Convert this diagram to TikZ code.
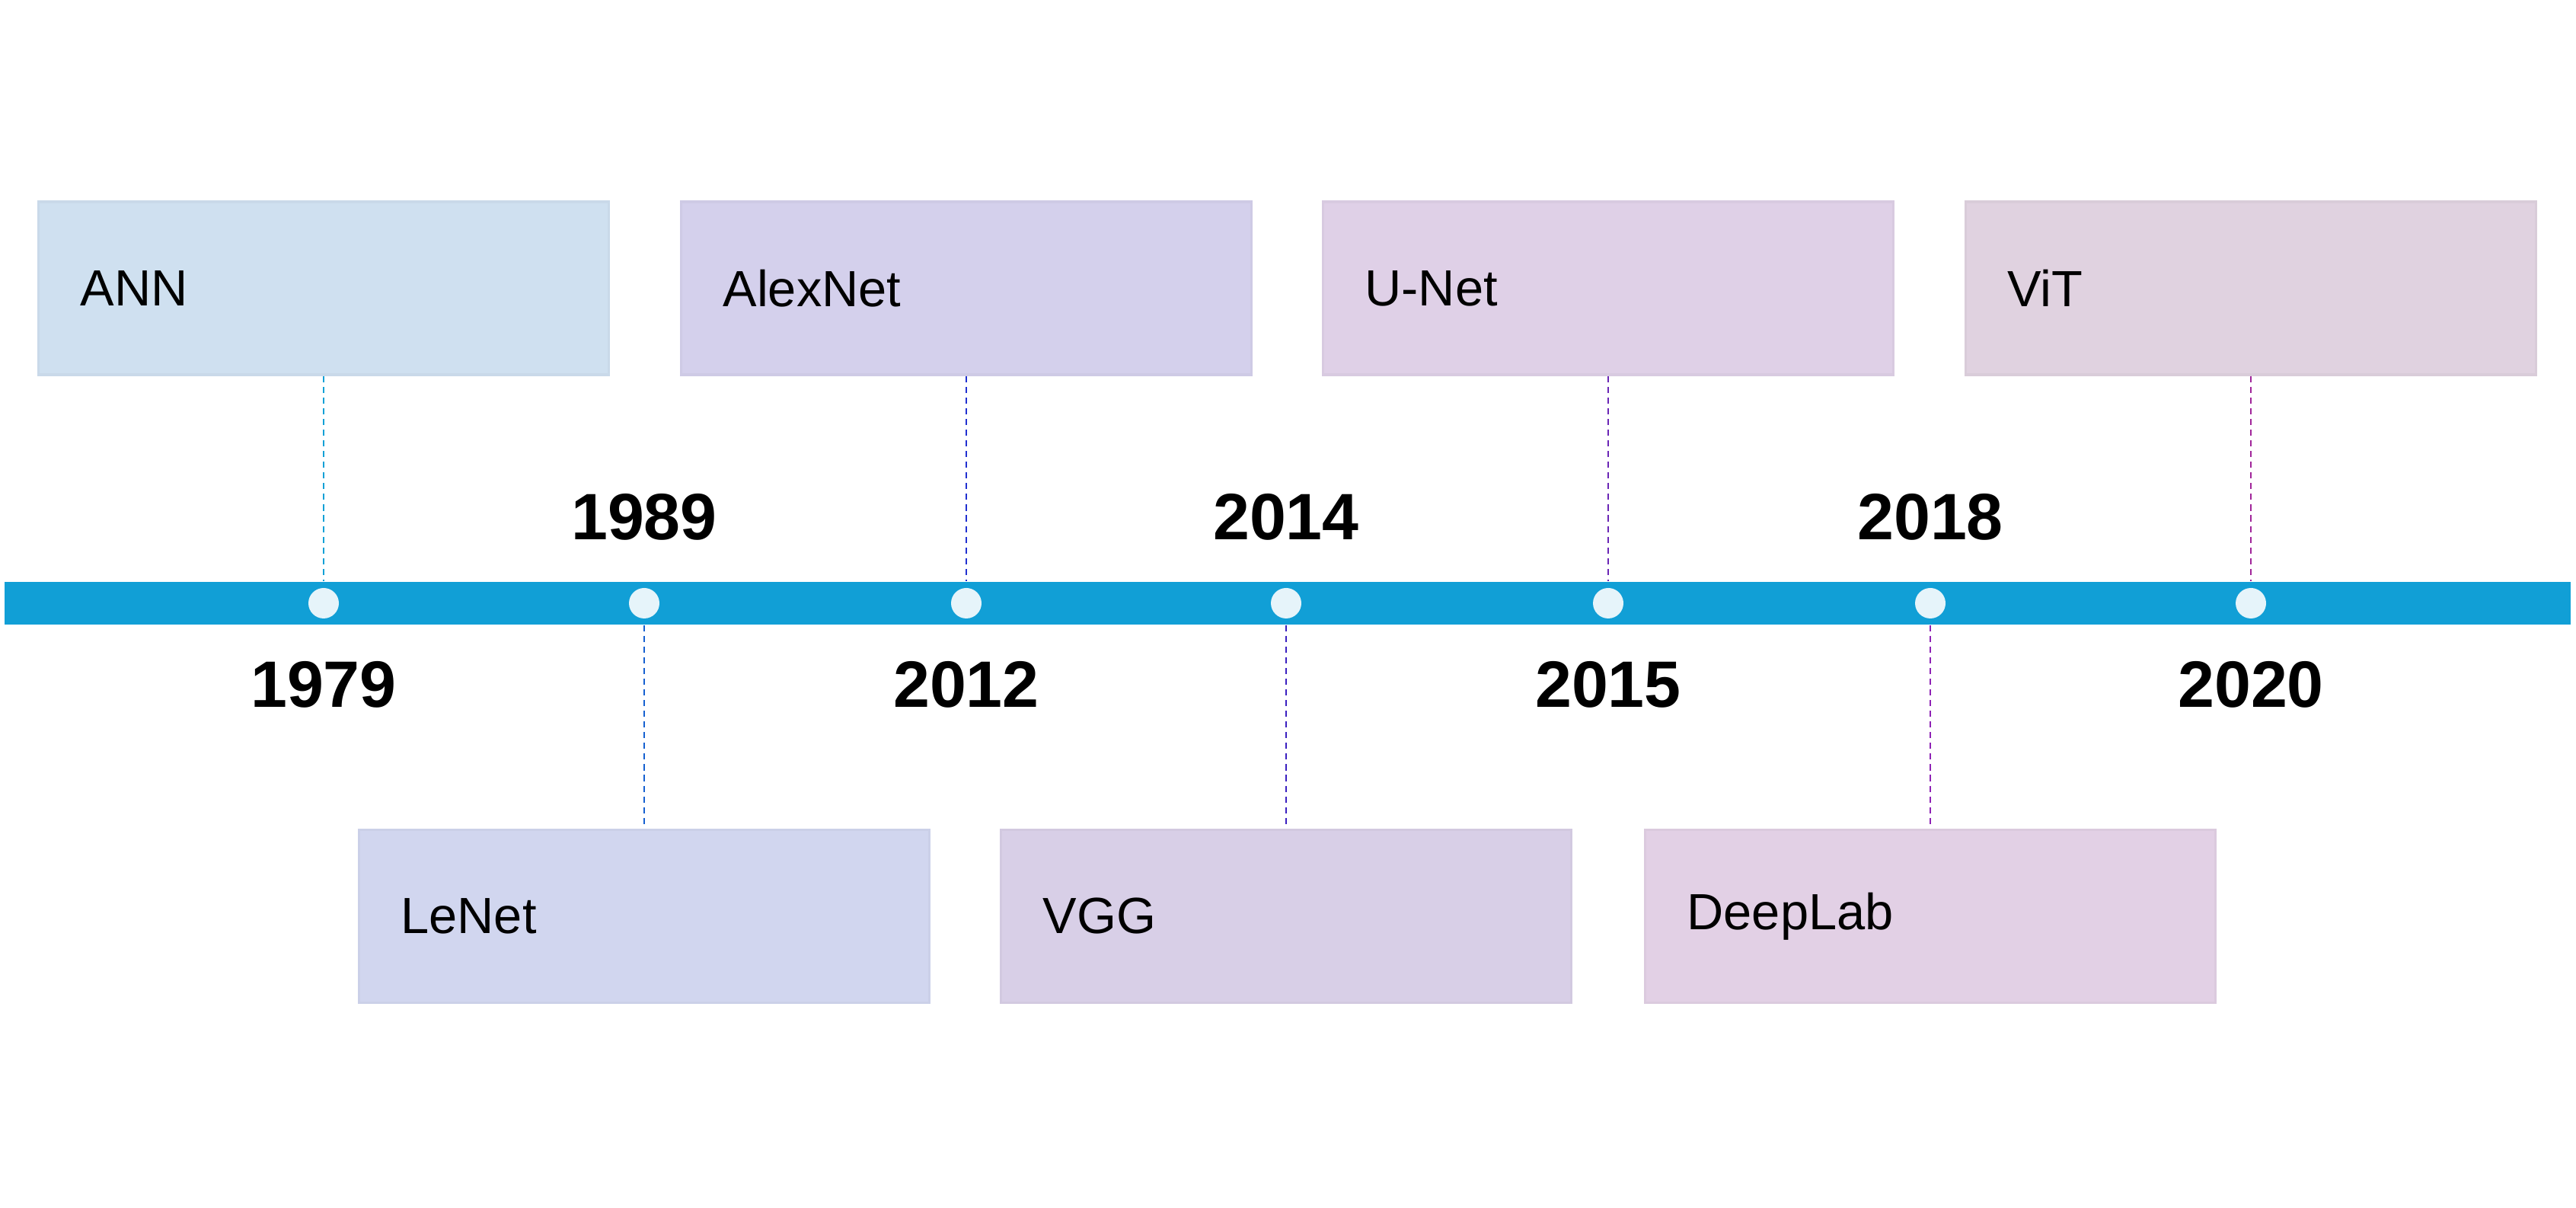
\documentclass[tikz,border=0pt]{standalone}
\usepackage{fontspec}
\setmainfont{Liberation Sans}
\usepackage{xcolor}
\usepackage{tikz}
\usetikzlibrary{calc,positioning}
\definecolor{barblue}{HTML}{119FD6}
\definecolor{dotwhite}{HTML}{E6F4FA}
\definecolor{annfill}{HTML}{CFE0F0}
\definecolor{lenetfill}{HTML}{D1D6EF}
\definecolor{alexfill}{HTML}{D4D0EC}
\definecolor{vggfill}{HTML}{D8CFE7}
\definecolor{unetfill}{HTML}{DFD0E7}
\definecolor{deepfill}{HTML}{E2D0E5}
\definecolor{vitfill}{HTML}{E0D2E0}
\definecolor{annline}{HTML}{11A0D6}
\definecolor{lenetline}{HTML}{1560D0}
\definecolor{alexline}{HTML}{2030D0}
\definecolor{vggline}{HTML}{3A1FC0}
\definecolor{unetline}{HTML}{6A25B5}
\definecolor{deepline}{HTML}{8E22B5}
\definecolor{vitline}{HTML}{A0259A}
\tikzset{
  model/.style={rectangle,line width=1pt,minimum height=2.27cm,text width=6.39cm,
                inner xsep=0.55cm,inner ysep=0pt,align=left,
                font=\fontsize{19}{21}\selectfont},
  year/.style={font=\fontsize{24.5}{27}\selectfont\bfseries,inner sep=0pt},
  yeardot/.style={circle,fill=dotwhite,minimum size=0.40cm,inner sep=0pt},
  link/.style={line width=0.65pt,dash pattern=on 2.3pt off 1.7pt}
}

\begin{document}
\begin{tikzpicture}
  \useasboundingbox (0,0) rectangle (33.83,15.86);

  % Time axis with one marker per year.
  \node[fill=barblue,minimum width=33.70cm,minimum height=0.56cm,inner sep=0pt]
    (axis) at (16.91,7.94) {};
  \node[yeardot] (d1) at (4.25,7.94) {};
  \node[yeardot] (d2) at (8.46,7.94) {};
  \node[yeardot] (d3) at (12.69,7.94) {};
  \node[yeardot] (d4) at (16.89,7.94) {};
  \node[yeardot] (d5) at (21.12,7.94) {};
  \node[yeardot] (d6) at (25.35,7.94) {};
  \node[yeardot] (d7) at (29.56,7.94) {};

  % Years, alternating below and above the axis.
  \node[year] (y1979) at (4.25,6.875) {1979};
  \node[year] (y1989) at (8.46,9.074) {1989};
  \node[year] (y2012) at (12.69,6.875) {2012};
  \node[year] (y2014) at (16.89,9.074) {2014};
  \node[year] (y2015) at (21.12,6.875) {2015};
  \node[year] (y2018) at (25.35,9.074) {2018};
  \node[year] (y2020) at (29.56,6.875) {2020};

  % Model boxes.
  \node[model,fill=annfill,draw=annfill!97!black] (ann) at (4.25,12.075) {ANN};
  \node[model,fill=lenetfill,draw=lenetfill!97!black] (lenet) at (8.46,3.83) {LeNet};
  \node[model,fill=alexfill,draw=alexfill!97!black] (alexnet) at (12.69,12.075) {AlexNet};
  \node[model,fill=vggfill,draw=vggfill!97!black] (vgg) at (16.89,3.83) {VGG};
  \node[model,fill=unetfill,draw=unetfill!97!black] (unet) at (21.12,12.075) {U-Net};
  \node[model,fill=deepfill,draw=deepfill!97!black] (deeplab) at (25.35,3.83) {DeepLab};
  \node[model,fill=vitfill,draw=vitfill!97!black] (vit) at (29.56,12.075) {ViT};

  % Dashed leaders from the boxes to the axis.
  \draw[link,annline] (ann.south) -- (ann.south |- axis.north);
  \draw[link,lenetline] (axis.south -| lenet.north) -- (lenet.north);
  \draw[link,alexline] (alexnet.south) -- (alexnet.south |- axis.north);
  \draw[link,vggline] (axis.south -| vgg.north) -- (vgg.north);
  \draw[link,unetline] (unet.south) -- (unet.south |- axis.north);
  \draw[link,deepline] (axis.south -| deeplab.north) -- (deeplab.north);
  \draw[link,vitline] (vit.south) -- (vit.south |- axis.north);
\end{tikzpicture}
\end{document}
